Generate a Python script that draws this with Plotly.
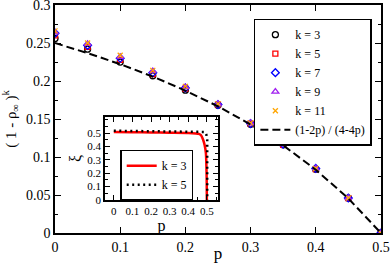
import plotly.graph_objects as go

# main data
p = [0.0, 0.05, 0.1, 0.15, 0.2, 0.25, 0.3, 0.35, 0.4, 0.45, 0.5]
k3 = [0.256, 0.242, 0.225, 0.207, 0.188, 0.168, 0.143, 0.116, 0.084, 0.046, 0.0]
k5 = [0.260, 0.245, 0.228, 0.209, 0.190, 0.169, 0.144, 0.116, 0.084, 0.046, 0.0]
k7 = [0.263, 0.247, 0.230, 0.211, 0.191, 0.169, 0.144, 0.117, 0.085, 0.046, 0.0]
k9 = [0.264, 0.249, 0.232, 0.213, 0.192, 0.170, 0.145, 0.117, 0.085, 0.046, 0.0]
k11 = [0.266, 0.250, 0.234, 0.214, 0.193, 0.170, 0.145, 0.118, 0.085, 0.046, 0.0]
theory = [0.25, 0.2368, 0.2222, 0.2059, 0.1875, 0.1667, 0.1429, 0.1154, 0.0833, 0.0455, 0.0]

# inset data
ins_p3 = [0.0, 0.1, 0.2, 0.3, 0.4, 0.44, 0.457, 0.468, 0.48, 0.488, 0.495, 0.499, 0.5]
ins_xi3 = [0.508, 0.506, 0.504, 0.502, 0.500, 0.497, 0.494, 0.485, 0.45, 0.41, 0.35, 0.17, 0.0]
ins_p5 = [0.0, 0.1, 0.2, 0.3, 0.4, 0.45, 0.47, 0.49, 0.497, 0.502, 0.502]
ins_xi5 = [0.517, 0.516, 0.515, 0.515, 0.514, 0.513, 0.512, 0.508, 0.49, 0.45, 0.0]

FONT = "Liberation Serif, Times New Roman, Times, serif"
fig = go.Figure()

series = [
    ("k = 3", k3, "circle-open", "black", 6),
    ("k = 5", k5, "square-open", "red", 5),
    ("k = 7", k7, "diamond-open", "blue", 6),
    ("k = 9", k9, "triangle-up-open", "#a020f0", 6),
    ("k = 11", k11, "x-thin-open", "orange", 5),
]
for name, vals, sym, col, sz in series:
    fig.add_trace(go.Scatter(x=p, y=vals, mode="markers", name=name,
                             marker=dict(symbol=sym, color=col, size=sz,
                                         line=dict(color=col, width=1.3))))
fig.add_trace(go.Scatter(x=p, y=theory, mode="lines", name="(1-2p) / (4-4p)",
                         line=dict(color="black", width=2, dash="8px,4px")))

fig.add_trace(go.Scatter(x=ins_p3, y=ins_xi3, mode="lines", name="k = 3",
                         xaxis="x2", yaxis="y2", legend="legend2",
                         line=dict(color="red", width=2.5, shape="spline", smoothing=0.6)))
fig.add_trace(go.Scatter(x=ins_p5, y=ins_xi5, mode="lines", name="k = 5",
                         xaxis="x2", yaxis="y2", legend="legend2",
                         line=dict(color="black", width=2.5, dash="2px,3.5px")))

axis_common = dict(showline=True, linecolor="black", linewidth=1.5, mirror="ticks",
                   ticks="inside", tickcolor="black", showgrid=False, zeroline=False,
                   ticklabeloverflow="allow", automargin=False)

fig.update_layout(
    width=390, height=263,
    margin=dict(l=55, r=9, t=5, b=30, autoexpand=False),
    paper_bgcolor="white", plot_bgcolor="white",
    font=dict(family=FONT, color="black", size=14),
    xaxis=dict(range=[0, 0.5001], tickvals=[0, 0.1, 0.2, 0.3, 0.4, 0.5],
               ticktext=["0", "0.1", "0.2", "0.3", "0.4", "0.5"], ticklen=6,
               tickfont=dict(family=FONT, size=14),
               title=dict(text="p", font=dict(family=FONT, size=17), standoff=0),
               **axis_common),
    yaxis=dict(range=[0, 0.3001], tickvals=[0, 0.05, 0.1, 0.15, 0.2, 0.25, 0.3],
               ticktext=["0", "0.05", "0.1", "0.15", "0.2", "0.25", "0.3"], ticklen=6,
               minor=dict(dtick=0.025, ticks="inside", ticklen=3, tickcolor="black"),
               tickfont=dict(family=FONT, size=14),
               title=dict(text="( 1 - ρ<sub>∞</sub> )<sup>k</sup>",
                          font=dict(family=FONT, size=15), standoff=6),
               **axis_common),
    xaxis2=dict(domain=[0.153, 0.5], anchor="y2", range=[-0.048, 0.56],
                tickvals=[0, 0.1, 0.2, 0.3, 0.4, 0.5],
                ticktext=["0", "0.1", "0.2", "0.3", "0.4", "0.5"], ticklen=5,
                minor=dict(dtick=0.05, ticks="inside", ticklen=3, tickcolor="black"),
                tickfont=dict(family=FONT, size=11),
                title=dict(text="p", font=dict(family=FONT, size=16), standoff=0),
                **axis_common),
    yaxis2=dict(domain=[0.145, 0.509], anchor="x2", range=[0, 0.62],
                tickvals=[0, 0.1, 0.2, 0.3, 0.4, 0.5],
                ticktext=["0", "0.1", "0.2", "0.3", "0.4", "0.5"], ticklen=5,
                minor=dict(dtick=0.05, ticks="inside", ticklen=3, tickcolor="black"),
                tickfont=dict(family=FONT, size=11),
                title=dict(text="ξ", font=dict(family=FONT, size=16), standoff=2),
                **axis_common),
    legend=dict(x=0.972, y=0.94, xanchor="right", yanchor="top",
                bordercolor="black", borderwidth=1.5, bgcolor="white",
                font=dict(family=FONT, size=12), itemwidth=30, tracegroupgap=0),
    legend2=dict(x=0.2, y=0.365, xanchor="left", yanchor="top",
                 bordercolor="black", borderwidth=1.5, bgcolor="white",
                 font=dict(family=FONT, size=12), itemwidth=30),
    showlegend=True,
)

fig.write_html("out.html", config={"displayModeBar": False},
               post_script="document.body.style.margin='0px';document.body.style.padding='0px';")
